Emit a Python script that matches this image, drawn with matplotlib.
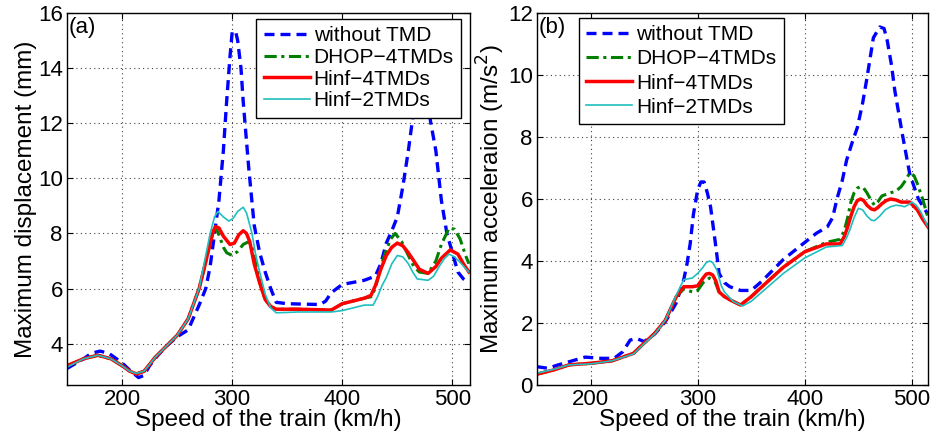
import numpy as np
import matplotlib
matplotlib.use("Agg")
import matplotlib.pyplot as plt

plt.rcParams['font.family'] = ['Liberation Sans', 'DejaVu Sans']

# (a) maximum displacement (mm)
xa_no = [150, 165, 172, 180, 188, 195, 200, 208, 215, 220, 225, 232, 240, 250, 260, 270, 276, 280, 284, 288,
         292, 295, 298, 300, 303, 305, 308, 310, 315, 320, 325, 330, 335, 340, 350, 380, 385, 390, 400, 420,
         430, 435, 440, 445, 450, 455, 460, 465, 472, 478, 480, 485, 490, 495, 500, 505, 510, 515]
ya_no = [3.1, 3.45, 3.65, 3.73, 3.65, 3.45, 3.3, 3.0, 2.77, 2.85, 3.2, 3.55, 3.9, 4.25, 4.5, 5.4, 6.0, 6.8, 8.0, 9.2,
         11.0, 12.8, 14.4, 15.3, 15.35, 15.0, 14.0, 12.8, 10.4, 8.3, 7.3, 6.6, 6.0, 5.5, 5.45, 5.42, 5.55, 5.85, 6.15, 6.3,
         6.45, 6.9, 7.65, 8.1, 8.6, 9.7, 11.0, 12.5, 13.6, 13.4, 12.1, 11.0, 9.2, 8.0, 7.3, 6.6, 6.35, 6.2]

xa_h4 = [150, 165, 178, 190, 200, 207, 213, 220, 230, 240, 250, 260, 270, 275, 280, 283, 285, 288, 292, 298,
         302, 306, 310, 313, 316, 320, 325, 330, 335, 340, 360, 390, 400, 420, 426, 430, 435, 440, 445, 450,
         455, 460, 465, 470, 478, 485, 490, 498, 505, 510, 515]
ya_h4 = [3.2, 3.45, 3.58, 3.45, 3.2, 3.0, 2.9, 3.0, 3.5, 3.9, 4.3, 4.9, 6.0, 6.8, 7.65, 8.1, 8.25, 8.2, 7.9, 7.6,
         7.65, 7.95, 8.1, 8.0, 7.7, 6.9, 6.2, 5.6, 5.35, 5.25, 5.25, 5.22, 5.45, 5.65, 5.75, 6.1, 6.7, 7.2, 7.5, 7.65,
         7.55, 7.3, 7.0, 6.7, 6.55, 6.8, 7.1, 7.4, 7.25, 6.9, 6.6]

xa_dh = [150, 165, 178, 190, 200, 207, 213, 220, 230, 240, 250, 260, 270, 275, 280, 283, 285, 288, 292, 295,
         300, 305, 310, 315, 318, 322, 326, 330, 335, 340, 360, 390, 400, 420, 426, 430, 435, 440, 444, 448,
         454, 460, 465, 470, 478, 485, 490, 497, 502, 507, 512, 515]
ya_dh = [3.2, 3.45, 3.58, 3.45, 3.2, 3.0, 2.9, 3.0, 3.5, 3.9, 4.3, 4.9, 6.0, 6.8, 7.65, 8.1, 8.2, 7.95, 7.5, 7.3,
         7.2, 7.35, 7.6, 7.7, 7.5, 6.8, 6.1, 5.6, 5.35, 5.25, 5.25, 5.22, 5.45, 5.65, 5.7, 6.0, 6.8, 7.4, 7.8, 8.0,
         7.7, 7.2, 6.8, 6.6, 6.55, 7.0, 7.6, 8.2, 8.15, 7.8, 7.2, 6.9]

xa_h2 = [150, 165, 178, 190, 200, 207, 213, 220, 230, 240, 250, 260, 270, 276, 280, 284, 287, 292, 297, 301,
         305, 310, 313, 318, 321, 325, 330, 335, 340, 360, 390, 400, 420, 428, 432, 436, 440, 445, 450, 455,
         460, 464, 468, 478, 483, 488, 493, 497, 502, 507, 515]
ya_h2 = [3.15, 3.45, 3.58, 3.45, 3.2, 3.0, 2.92, 3.0, 3.5, 3.9, 4.3, 4.9, 6.0, 7.2, 8.0, 8.6, 8.8, 8.6, 8.45, 8.55,
         8.8, 8.95, 8.75, 8.0, 7.3, 6.6, 5.8, 5.3, 5.12, 5.15, 5.15, 5.2, 5.4, 5.4, 5.7, 6.1, 6.4, 6.9, 7.2, 7.15,
         6.9, 6.6, 6.35, 6.3, 6.45, 6.8, 7.1, 7.25, 7.15, 6.95, 6.6]

# (b) maximum acceleration (m/s^2)
xb_no = [150, 160, 170, 180, 195, 210, 222, 230, 237, 243, 250, 260, 270, 280, 287, 290, 293, 296, 300, 303,
         306, 309, 312, 317, 320, 325, 330, 340, 350, 360, 370, 380, 400, 411, 421, 426, 430, 435, 439, 444,
         449, 454, 458, 464, 470, 474, 477, 481, 484, 491, 498, 506, 515]
yb_no = [0.59, 0.54, 0.65, 0.75, 0.9, 0.86, 0.86, 1.07, 1.45, 1.5, 1.4, 1.65, 2.05, 2.65, 3.4, 3.9, 4.56, 5.5, 6.3, 6.55,
         6.55, 6.2, 5.75, 4.45, 3.6, 3.3, 3.17, 3.05, 3.05, 3.35, 3.7, 4.05, 4.6, 4.9, 5.1, 5.4, 6.0, 6.6, 7.25, 7.8,
         8.3, 9.1, 9.9, 11.2, 11.55, 11.5, 11.1, 10.3, 9.5, 8.1, 6.8, 6.0, 5.5]

xb_h4 = [150, 165, 180, 200, 220, 240, 250, 260, 270, 280, 287, 295, 300, 305, 308, 311, 314, 317, 320, 325,
         330, 340, 350, 360, 380, 400, 420, 433, 437, 440, 443, 446, 449, 452, 455, 458, 462, 465, 468, 472,
         476, 480, 485, 490, 498, 505, 510, 515]
yb_h4 = [0.35, 0.48, 0.65, 0.7, 0.78, 1.02, 1.35, 1.67, 2.1, 2.85, 3.17, 3.17, 3.2, 3.45, 3.58, 3.6, 3.55, 3.35, 3.0, 2.85,
         2.75, 2.58, 2.85, 3.17, 3.8, 4.3, 4.55, 4.55, 4.8, 5.1, 5.45, 5.75, 5.95, 6.0, 5.95, 5.8, 5.68, 5.65, 5.72, 5.85,
         5.95, 6.0, 5.97, 5.9, 5.9, 5.65, 5.35, 5.1]

xb_dh = [150, 165, 180, 200, 220, 240, 250, 260, 270, 280, 287, 295, 300, 305, 311, 316, 320, 325, 330, 340,
         350, 360, 380, 400, 420, 433, 437, 440, 443, 446, 449, 452, 455, 458, 462, 465, 468, 472, 476, 480,
         485, 490, 494, 498, 502, 505, 510, 515]
yb_dh = [0.35, 0.48, 0.65, 0.7, 0.78, 1.02, 1.35, 1.67, 2.1, 2.85, 3.1, 3.0, 3.05, 3.3, 3.45, 3.35, 3.0, 2.85, 2.75, 2.58,
         2.85, 3.17, 3.8, 4.3, 4.6, 4.7, 5.0, 5.4, 5.9, 6.2, 6.35, 6.4, 6.35, 6.2, 5.95, 5.8, 5.9, 6.1, 6.15, 6.2,
         6.25, 6.4, 6.6, 6.85, 6.75, 6.5, 6.0, 5.4]

xb_h2 = [150, 165, 180, 200, 220, 240, 250, 260, 270, 280, 287, 295, 300, 305, 308, 311, 314, 318, 322, 325,
         333, 342, 350, 360, 380, 400, 420, 435, 439, 442, 446, 450, 454, 458, 462, 465, 470, 475, 480, 485,
         490, 493, 497, 500, 504, 508, 515]
yb_h2 = [0.38, 0.5, 0.65, 0.68, 0.78, 1.0, 1.33, 1.65, 2.1, 2.9, 3.4, 3.45, 3.6, 3.8, 3.95, 4.0, 3.95, 3.7, 3.2, 3.0,
         2.7, 2.55, 2.7, 3.0, 3.6, 4.1, 4.45, 4.5, 4.75, 5.0, 5.4, 5.7, 5.65, 5.45, 5.32, 5.3, 5.45, 5.65, 5.75, 5.8,
         5.78, 5.75, 5.82, 5.9, 5.8, 5.6, 5.1]

labels = ['without TMD', 'DHOP\u22124TMDs', 'Hinf\u22124TMDs', 'Hinf\u22122TMDs']

fig = plt.figure(figsize=(9.32, 4.42), dpi=100)
ax1 = fig.add_axes([67/932, 57/442, 403/932, 372/442])
ax2 = fig.add_axes([537/932, 57/442, 391/932, 372/442])

FS = 16
LFS = 17.5


def draw(ax, no, dh, h4, h2):
    ax.plot(no[0], no[1], color='#0000ff', ls=(0, (3, 1.8)), lw=2.4, label=labels[0])
    ax.plot(dh[0], dh[1], color='#007f00', ls=(0, (4, 1.5, 1, 1.5)), lw=2.2, label=labels[1])
    ax.plot(h4[0], h4[1], color='#ff0000', ls='-', lw=2.5, label=labels[2])
    ax.plot(h2[0], h2[1], color='#1fbfbf', ls='-', lw=1.2, label=labels[3])
    ax.grid(True, color='#404040', ls=(0, (1, 3)), lw=0.8)
    ax.tick_params(direction='in', labelsize=FS, length=4, top=True, right=True, pad=3)
    ax.set_xlabel('Speed of the train (km/h)', fontsize=LFS, labelpad=-1)
    for s in ax.spines.values():
        s.set_linewidth(1.0)


def legend(ax, spacing, **kw):
    leg = ax.legend(fontsize=15, frameon=True, fancybox=False, handlelength=2.2,
                    labelspacing=spacing, borderpad=0.35, handletextpad=0.2, **kw)
    leg.get_frame().set_edgecolor('black')
    leg.get_frame().set_linewidth(1.0)
    leg.get_frame().set_alpha(1)


draw(ax1, (xa_no, ya_no), (xa_dh, ya_dh), (xa_h4, ya_h4), (xa_h2, ya_h2))
ax1.set_xlim(150, 516)
ax1.set_ylim(2.5, 16)
ax1.set_xticks([200, 300, 400, 500])
ax1.set_yticks([4, 6, 8, 10, 12, 14, 16])
ax1.set_ylabel('Maximum displacement (mm)', fontsize=LFS, labelpad=1)
ax1.text(0.005, 0.99, '(a)', transform=ax1.transAxes, fontsize=FS, va='top', ha='left')
legend(ax1, 0.13, loc='upper right', bbox_to_anchor=(0.978, 0.984), borderaxespad=0)

draw(ax2, (xb_no, yb_no), (xb_dh, yb_dh), (xb_h4, yb_h4), (xb_h2, yb_h2))
ax2.set_xlim(150, 515)
ax2.set_ylim(0, 12)
ax2.set_xticks([200, 300, 400, 500])
ax2.set_yticks([0, 2, 4, 6, 8, 10, 12])
ax2.set_ylabel('Maximum acceleraion (m/s$^2$)', fontsize=LFS, labelpad=1)
ax2.text(0.005, 0.99, '(b)', transform=ax2.transAxes, fontsize=FS, va='top', ha='left')
legend(ax2, 0.25, loc='upper left', bbox_to_anchor=(0.107, 0.987), borderaxespad=0)

fig.savefig('out.png', dpi=100)
